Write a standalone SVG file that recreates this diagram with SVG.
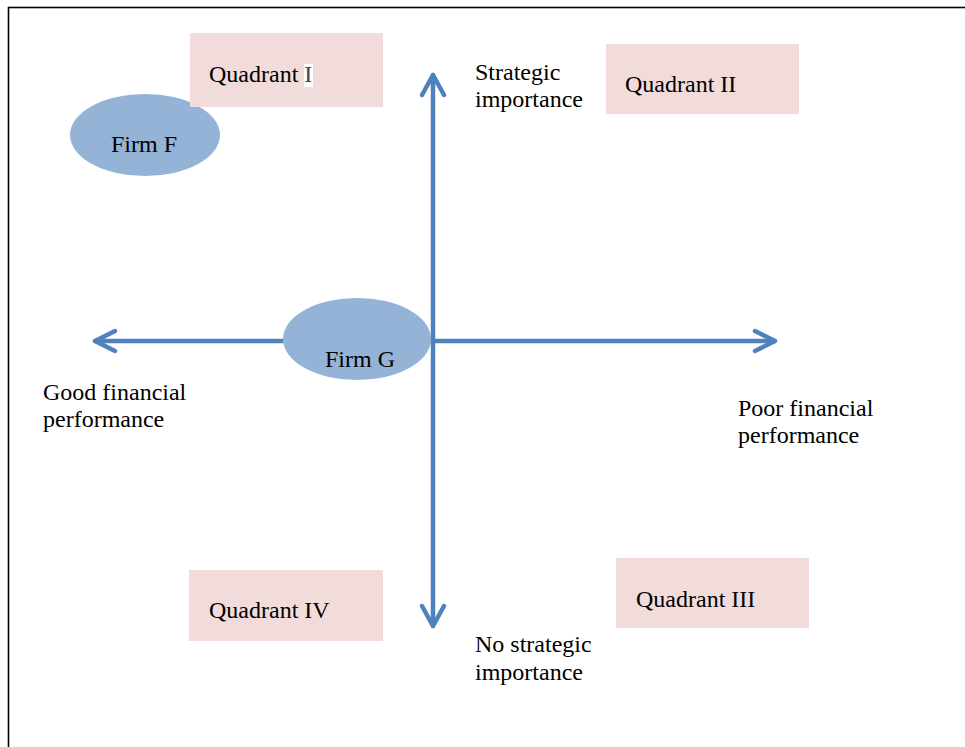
<svg xmlns="http://www.w3.org/2000/svg" width="965" height="747" viewBox="0 0 965 747">
<style>
text{font-family:"Liberation Serif","Times New Roman",serif;font-size:24px;fill:#000}
.box{fill:#F2DCDB}
.firm{fill:#95B3D7}
.axis{stroke:#4F81BD;stroke-width:4.5;fill:none;stroke-linecap:round;stroke-linejoin:round}
</style>
<rect x="0" y="0" width="965" height="747" fill="#fff"/>
<rect x="8.5" y="7.5" width="1000" height="800" fill="none" stroke="#000" stroke-width="1.6"/>
<g id="connectors">
<path class="axis" d="M433 75 V626"/>
<path class="axis" d="M422 95 L433 75 L444 95"/>
<path class="axis" d="M422 606 L433 626 L444 606"/>
<path class="axis" d="M95 341 H431"/>
<path class="axis" d="M435 341 H774"/>
<path class="axis" d="M115 331 L95 341 L115 351"/>
<path class="axis" d="M755 331 L775 341 L755 351"/>
</g>
<g id="firmF">
<ellipse class="firm" cx="145" cy="135" rx="75" ry="41"/>
<text x="111" y="152">Firm F</text>
</g>
<g id="quadrant1">
<rect class="box" x="190" y="33" width="193" height="74"/>
<rect x="304" y="64" width="9" height="23" fill="#fff"/>
<text x="209" y="82">Quadrant <tspan fill="#444">I</tspan></text>
</g>
<g id="quadrant2">
<rect class="box" x="606" y="44" width="193" height="70"/>
<text x="625" y="92">Quadrant II</text>
</g>
<g id="quadrant3">
<rect class="box" x="616" y="558" width="193" height="70"/>
<text x="636" y="607">Quadrant III</text>
</g>
<g id="quadrant4">
<rect class="box" x="189" y="570" width="194" height="71"/>
<text x="209" y="618">Quadrant IV</text>
</g>
<g id="firmG">
<ellipse class="firm" cx="357" cy="339" rx="74" ry="41"/>
<text x="325" y="367">Firm G</text>
</g>
<g id="strategic">
<text x="475" y="80">Strategic</text>
<text x="475" y="107">importance</text>
</g>
<g id="noStrategic">
<text x="475" y="652">No strategic</text>
<text x="475" y="680">importance</text>
</g>
<g id="goodPerf">
<text x="43" y="400">Good financial</text>
<text x="43" y="427">performance</text>
</g>
<g id="poorPerf">
<text x="738" y="416">Poor financial</text>
<text x="738" y="443">performance</text>
</g>
</svg>
